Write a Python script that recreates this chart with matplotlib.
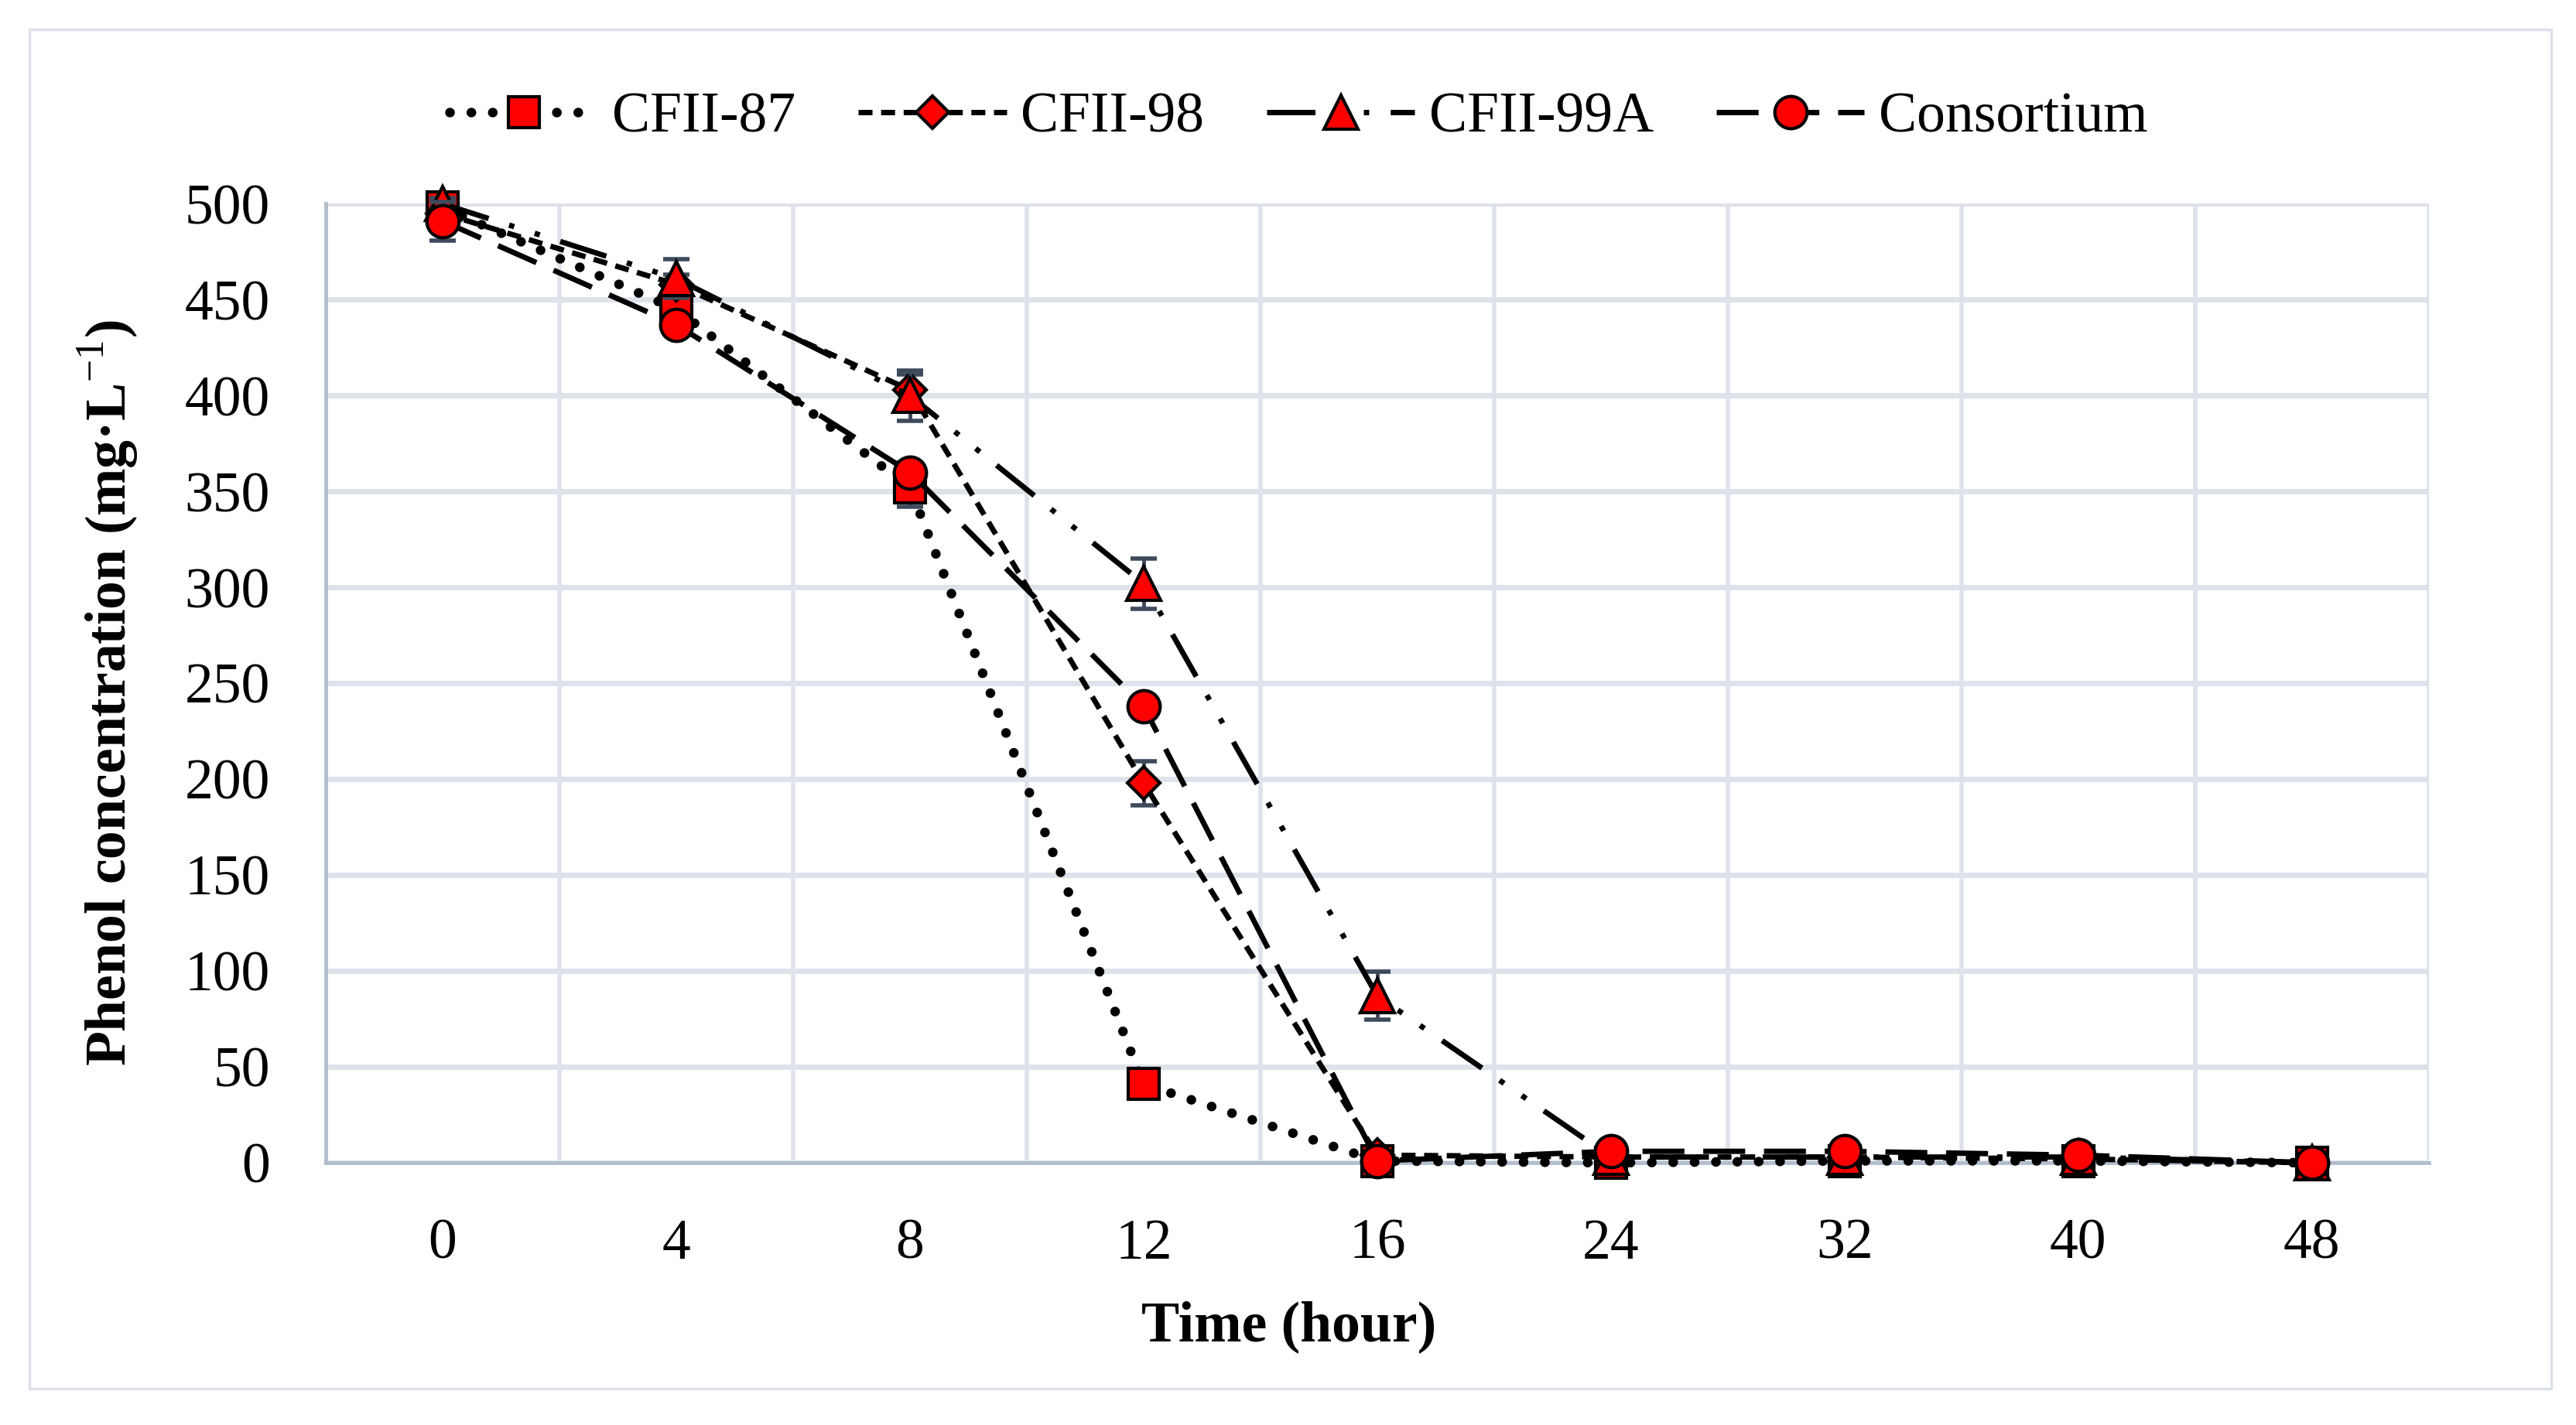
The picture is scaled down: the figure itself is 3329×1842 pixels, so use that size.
import matplotlib
matplotlib.use("Agg")
import matplotlib.pyplot as plt
from matplotlib.patches import Rectangle

# data
hours = ["0", "4", "8", "12", "16", "24", "32", "40", "48"]
cfii_87 = [498, 445, 352, 41, 1, 0, 1, 1, 0]
cfii_87_err = [3, 5, 10, 3, 1, 0, 0, 0, 0]
cfii_98 = [495, 458, 403, 198, 4, 3, 3, 2, 0]
cfii_98_err = [3, 5, 8, 11.5, 2, 0, 0, 0, 0]
cfii_99a = [500, 461, 400, 302, 87, 3, 3, 3, 0]
cfii_99a_err = [3, 10, 13, 13, 12.5, 1, 1, 1, 0]
consortium = [491, 437, 360, 238, 1, 6, 6, 4, 0]
consortium_err = [10, 4, 5, 4, 1, 1, 1, 1, 0]

series_names = ["CFII-87", "CFII-98", "CFII-99A", "Consortium"]

plt.rcParams["font.family"] = ["Liberation Serif", "DejaVu Serif"]
plt.rcParams["mathtext.fontset"] = "custom"
plt.rcParams["mathtext.rm"] = "Liberation Serif"
FS = 53

fig = plt.figure(figsize=(33.3, 18.42), dpi=100)
ax = fig.add_axes([0.1264, 0.184, 0.8162, 0.673])

# outer chart border
fig.patches.append(Rectangle((0.0114, 0.0255), 0.9787, 0.954, transform=fig.transFigure,
                             fill=False, edgecolor="#DCE1E9", linewidth=2.5))

x = list(range(len(hours)))
styles = [
    dict(marker="s", ms=29, ls=(0, (0.01, 2.2)), lw=9, cap="round"),
    dict(marker="D", ms=21, ls=(0, (2.6, 1.6)), lw=5, cap="butt"),
    dict(marker="^", ms=31, ls=(0, (9, 4, 1, 4, 1, 4)), lw=5, cap="butt"),
    dict(marker="o", ms=30, ls=(0, (7.8, 3.5)), lw=5, cap="butt"),
]
values = [cfii_87, cfii_98, cfii_99a, consortium]
errors = [cfii_87_err, cfii_98_err, cfii_99a_err, consortium_err]

for i, (name, vals, errs, st) in enumerate(zip(series_names, values, errors, styles)):
    ax.errorbar(x, vals, yerr=errs, fmt="none", ecolor="#3E4A5C", elinewidth=3.5,
                capsize=12, capthick=4, zorder=3 + i, clip_on=False)
    ax.plot(x, vals, color="black", linestyle=st["ls"], linewidth=st["lw"],
            dash_capstyle=st["cap"], marker=st["marker"], markersize=st["ms"],
            markerfacecolor="#FF0000", markeredgecolor="black", markeredgewidth=3,
            label=name, zorder=3 + i, clip_on=False)

ax.set_xlim(-0.5, len(hours) - 0.5)
ax.set_ylim(0, 500)
ax.set_xticks(x)
ax.set_xticklabels(hours)
ax.set_xticks([i + 0.5 for i in x], minor=True)
ax.set_yticks(range(0, 501, 50))
ax.tick_params(axis="both", which="both", length=0, labelsize=FS, pad=52)
ax.tick_params(axis="x", which="minor", labelbottom=False)

ax.grid(axis="y", which="major", color="#DEE2EA", linewidth=5)
ax.grid(axis="x", which="minor", color="#DEE2EA", linewidth=4)
ax.set_axisbelow(True)

for side in ["top", "right"]:
    ax.spines[side].set_visible(False)
for side in ["left", "bottom"]:
    ax.spines[side].set_color("#B2BDCE")
    ax.spines[side].set_linewidth(3.5)

ax.set_ylabel(r"Phenol concentration (mg·L$^{-1}$)", fontsize=FS, fontweight="bold")
ax.yaxis.set_label_coords(-0.088, 0.49)
ax.set_xlabel("Time (hour)", fontsize=FS, fontweight="bold")
ax.xaxis.set_label_coords(0.458, -0.171)
ax.xaxis.label.set_va("center")

leg = fig.legend(loc="center", bbox_to_anchor=(0.504, 0.917), ncol=4, frameon=False,
                 fontsize=FS, handlelength=2.6, handletextpad=0.25, columnspacing=1.1,
                 numpoints=1)

fig.savefig("out.png", dpi=100, facecolor="white")
